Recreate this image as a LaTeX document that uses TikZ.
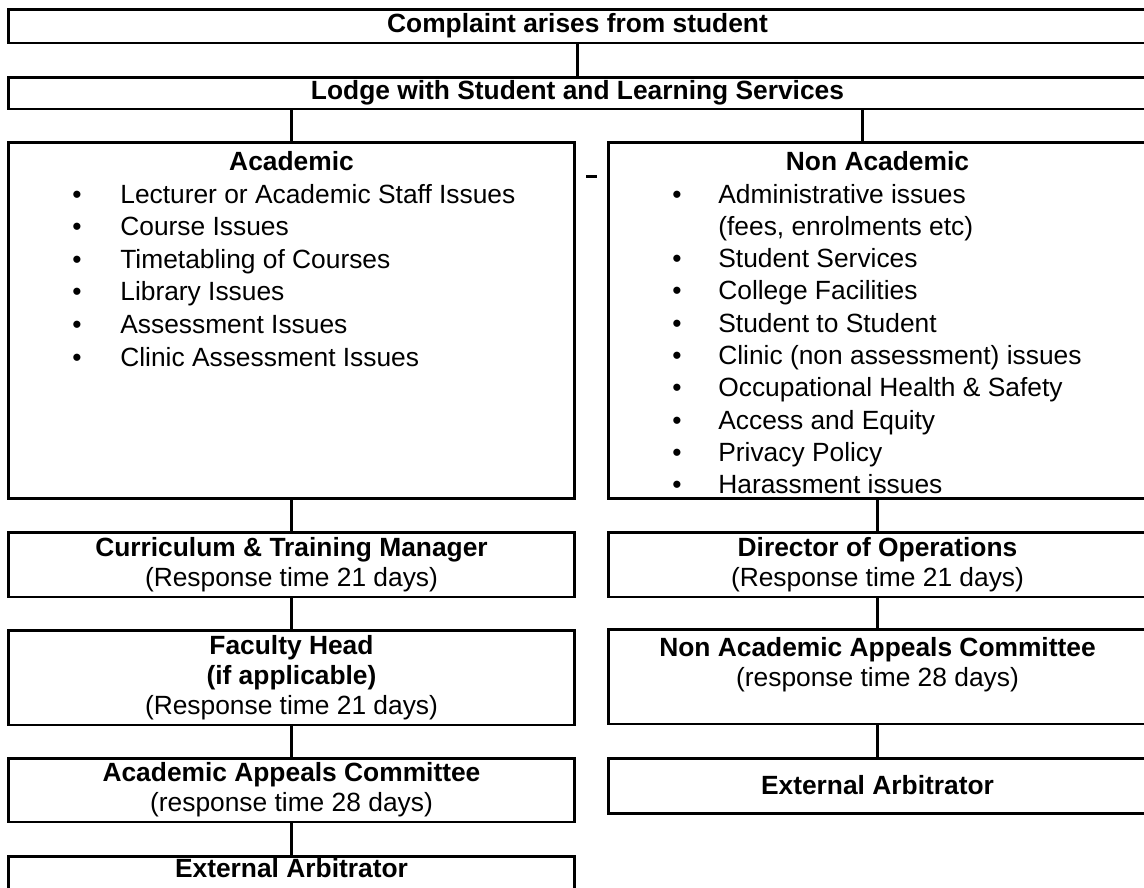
\documentclass[tikz,border=0pt]{standalone}
\usepackage{fontspec}
\setmainfont{Liberation Sans}
\usetikzlibrary{positioning, calc}

\tikzset{
    blk/.style={draw, line width=1.7pt, rectangle, inner sep=0pt, align=center, font=\fontsize{15}{17}\selectfont},
    conn/.style={line width=1.7pt},
    bul/.style={anchor=base, inner sep=0pt},
    itm/.style={anchor=base west, inner sep=0pt}
}

\begin{document}
\begin{tikzpicture}[x=0.02cm, y=-0.02cm, font=\fontsize{15}{18.5}\selectfont]
		\useasboundingbox (0,0) rectangle (1144,887);
		\clip (0,0) rectangle (1144,887);
	
		% top rows
		\node[blk, minimum width=22.78cm, minimum height=0.68cm] (top) at (577.5,26) {\textbf{Complaint arises from student}};
		\node[blk, minimum width=22.78cm, minimum height=0.64cm] (lodge) at (577.5,93) {\textbf{Lodge with Student and Learning Services}};
		
		% the two big boxes
		\node[blk, minimum width=11.34cm, minimum height=7.14cm] (acad) at (291.5,320.5) {};
		\node[blk, minimum width=10.78cm, minimum height=7.14cm] (nonac) at (877.5,320.5) {};
		\node[anchor=base, inner sep=0pt] (acadttl) at (291.5,170) {\textbf{Academic}};
		\node[anchor=base, inner sep=0pt] (nonacttl) at (877.5,170) {\textbf{Non Academic}};
		
		\foreach \txt [count=\i from 0] in {Lecturer or Academic Staff Issues, Course Issues, Timetabling of Courses, Library Issues, Assessment Issues, Clinic Assessment Issues}{
			\node[bul] (ab\i) at (77,203+32.6*\i) {\textbullet};
			\node[itm] (at\i) at (120,203+32.6*\i) {\txt};
		}
		
		\foreach \k/\txt in {0/Administrative issues, 2/Student Services, 3/College Facilities, 4/Student to Student, 5/Clinic (non assessment) issues, 6/Occupational Health \& Safety, 7/Access and Equity, 8/Privacy Policy, 9/Harassment issues}{
			\node[bul] (nb\k) at (677,203+32.3*\k) {\textbullet};
			\node[itm] (nt\k) at (718,203+32.3*\k) {\txt};
		}
		\node[itm] (nt1) at (718,235.3) {(fees, enrolments etc)};
		
		% stray dash between the columns
		\coordinate (dsh1) at (586,176);
		\coordinate (dsh2) at (597,176);
		\draw[line width=1.7pt] (dsh1) -- (dsh2);
		
		% academic side
		\node[blk, minimum width=11.34cm, minimum height=1.3cm] (ctm) at (291.5,564.5) {\textbf{Curriculum \& Training Manager}\\(Response time 21 days)};
		\node[blk, minimum width=11.34cm, minimum height=1.9cm] (fh) at (291.5,677.5) {\textbf{Faculty Head}\\\textbf{(if applicable)}\\(Response time 21 days)};
		\node[blk, minimum width=11.34cm, minimum height=1.28cm] (aac) at (291.5,790) {\textbf{Academic Appeals Committee}\\(response time 28 days)};
		\node[blk, minimum width=11.34cm, minimum height=1.08cm] (eal) at (291.5,883) {\textbf{External Arbitrator}\\\mbox{}};
		
		% non academic side
		\node[blk, minimum width=10.78cm, minimum height=1.3cm] (doo) at (877.5,564.5) {\textbf{Director of Operations}\\(Response time 21 days)};
		\node[blk, minimum width=10.78cm, minimum height=1.9cm] (naac) at (877.5,676.5) {\textbf{Non Academic Appeals Committee}\\(response time 28 days)\\\mbox{}};
		\node[blk, minimum width=10.78cm, minimum height=1.1cm] (ear) at (877.5,785.5) {\textbf{External Arbitrator}};
		
		% connectors
		\draw[conn] (top) -- (lodge);
		\draw[conn] (acad.north) -- (acad.north |- lodge.south);
		\draw[conn] ([xshift=-0.31cm]nonac.north) -- ([xshift=-0.31cm]nonac.north |- lodge.south);
		\draw[conn] (acad) -- (ctm);
		\draw[conn] (ctm) -- (fh);
		\draw[conn] (fh) -- (aac);
		\draw[conn] (aac) -- (eal);
		\draw[conn] (nonac) -- (doo);
		\draw[conn] (doo) -- (naac);
		\draw[conn] (naac) -- (ear);
	
	\end{tikzpicture}
\end{document}
